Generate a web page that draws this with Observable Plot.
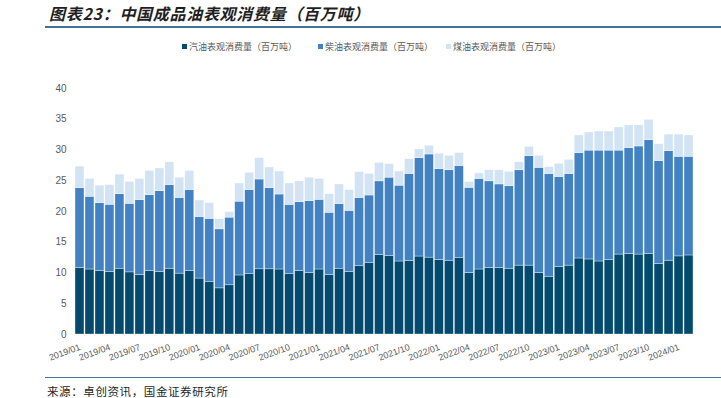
<!DOCTYPE html>
<html><head><meta charset="utf-8">
<script src="https://cdn.jsdelivr.net/npm/d3@7"></script>
<script src="https://cdn.jsdelivr.net/npm/@observablehq/plot@0.6"></script>
<style>
body{margin:0;width:721px;height:398px;position:relative;background:#fff;font-family:"Noto Sans CJK SC",sans-serif;overflow:hidden}
#chart{position:absolute;left:0;top:0}
.title{position:absolute;left:49px;top:2px;font-size:16px;line-height:22px;font-weight:bold;font-style:italic;color:#1f1f1f;letter-spacing:0.7px;white-space:nowrap}
.rule{position:absolute;left:45px;right:0;height:1.5px;background:#41739a}
.legend{position:absolute;top:40px;left:0;font-size:9px;line-height:14px;color:#595959;white-space:nowrap}
.legend span.item{position:absolute;top:0}
.legend i{display:inline-block;width:5px;height:5px;margin-right:2px;vertical-align:1px}
.source{position:absolute;left:47px;top:383px;font-size:11.5px;line-height:16px;color:#1f1f1f;letter-spacing:0.6px;white-space:nowrap}
</style></head>
<body>
<div class="title">图表23：中国成品油表观消费量（百万吨）</div>
<div class="rule" style="top:26px"></div>
<div class="legend" id="legend"></div>
<div id="chart"></div>
<div class="rule" style="top:377px;height:1.2px"></div>
<div class="source">来源：卓创资讯，国金证券研究所</div>
<script>
const months = ["2019/01","2019/02","2019/03","2019/04","2019/05","2019/06","2019/07","2019/08","2019/09","2019/10","2019/11","2019/12",
"2020/01","2020/02","2020/03","2020/04","2020/05","2020/06","2020/07","2020/08","2020/09","2020/10","2020/11","2020/12",
"2021/01","2021/02","2021/03","2021/04","2021/05","2021/06","2021/07","2021/08","2021/09","2021/10","2021/11","2021/12",
"2022/01","2022/02","2022/03","2022/04","2022/05","2022/06","2022/07","2022/08","2022/09","2022/10","2022/11","2022/12",
"2023/01","2023/02","2023/03","2023/04","2023/05","2023/06","2023/07","2023/08","2023/09","2023/10","2023/11","2023/12",
"2024/01","2024/02"];
const xTickLabels = ["2019/01","2019/04","2019/07","2019/10","2020/01","2020/04","2020/07","2020/10","2021/01","2021/04","2021/07","2021/10",
"2022/01","2022/04","2022/07","2022/10","2023/01","2023/04","2023/07","2023/10","2024/01"];
const yTicks = [0,5,10,15,20,25,30,35,40];
const seriesNames = ["汽油表观消费量（百万吨）","柴油表观消费量（百万吨）","煤油表观消费量（百万吨）"];
const seriesColors = ["#034a6e","#4281c2","#d2e4f4"];
const gasoline = [10.84,10.57,10.3,10.2,10.7,10.1,9.7,10.3,10.2,10.7,9.9,10.3,
9.1,8.5,7.5,8.0,9.6,9.8,10.6,10.6,10.57,9.8,10.3,10.0,
10.57,9.7,10.7,10.2,11.1,11.6,12.9,12.74,11.87,11.98,12.68,12.5,
12.1,12.0,12.4,10.0,10.57,10.8,10.8,10.7,11.2,11.2,10.0,9.4,
10.95,11.2,12.36,12.2,11.87,12.1,13.0,13.1,13.0,13.1,11.5,12.0,
12.7,12.85];
const diesel = [12.95,11.83,11.05,10.9,12.1,11.15,12.15,12.35,13.1,13.6,12.3,13.2,
10.0,10.3,9.6,11.0,12.0,13.7,14.6,13.2,12.19,11.28,11.2,11.7,
11.33,10.1,10.5,9.9,11.1,11.0,12.0,12.76,12.33,14.12,15.99,16.77,
14.8,14.7,15.0,13.85,14.73,14.1,13.6,13.4,15.5,17.8,17.1,16.7,
14.65,14.9,17.14,17.7,18.03,17.8,16.9,17.2,17.57,18.5,16.7,17.8,
16.2,16.05];
const kerosene = [3.51,2.9,2.85,3.2,3.2,3.55,3.45,3.95,3.7,3.7,3.3,3.1,
2.7,2.55,1.65,0.9,2.95,2.8,3.5,3.35,3.74,3.47,3.4,3.8,
3.4,3.0,3.2,3.4,4.2,3.5,3.0,2.2,2.3,2.4,1.43,1.43,
2.5,2.35,2.1,0.95,0.9,1.8,2.3,2.35,1.3,1.5,1.95,1.1,
2.15,2.3,2.86,2.95,3.1,3.1,3.76,3.7,3.43,3.3,2.75,2.7,
3.6,3.46];

const seriesValues = [gasoline, diesel, kerosene];
const data = [];
seriesValues.forEach((vals, s) => vals.forEach((v, i) => data.push({month: months[i], series: seriesNames[s], value: v})));

const chart = Plot.plot({
  width: 721,
  height: 398,
  marginTop: 88,
  marginBottom: 64,
  marginLeft: 74,
  marginRight: 27,
  style: {fontFamily: "'Liberation Sans', Arial, sans-serif", background: "transparent"},
  x: {type: "band", domain: months, padding: 0.1, axis: null, label: null},
  y: {domain: [0, 40], axis: null, label: null},
  color: {domain: seriesNames, range: seriesColors},
  marks: [
    Plot.barY(data, {x: "month", y: "value", fill: "series", stroke: "#ffffff", strokeWidth: 0.5, strokeOpacity: 0.7}),
    Plot.axisY(yTicks, {tickSize: 0, tickPadding: 8, fontSize: 10, color: "#595959", label: null}),
    Plot.text(xTickLabels, {x: d => d, frameAnchor: "bottom", dy: 15, dx: 1, rotate: -20, textAnchor: "end", fontSize: 9, fill: "#595959"})
  ]
});
document.getElementById("chart").appendChild(chart);

const legend = document.getElementById("legend");
const legendX = [182, 318, 446];
seriesNames.forEach((n, i) => {
  const s = document.createElement("span");
  s.className = "item";
  s.style.left = legendX[i] + "px";
  s.innerHTML = `<i style="background:${seriesColors[i]}"></i>${n}`;
  legend.appendChild(s);
});
</script>
</body></html>
